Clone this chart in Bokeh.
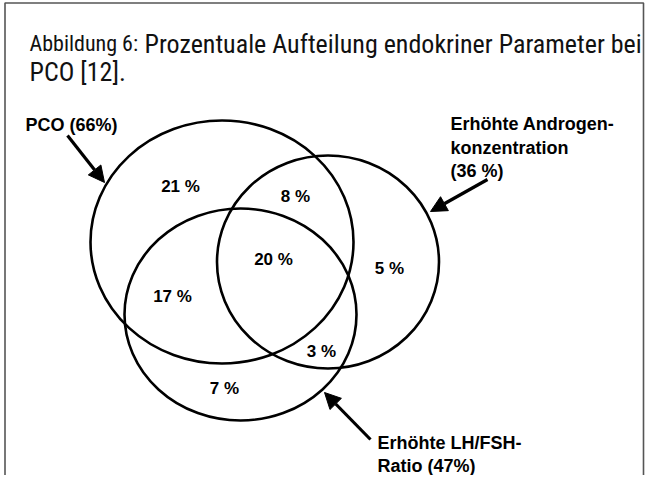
from bokeh.plotting import figure
from bokeh.models import Range1d, Arrow, NormalHead, ColumnDataSource
from bokeh.core.properties import value
from bokeh.embed import file_html
from bokeh.resources import INLINE

# ---- data ----
set_names = ["PCO", "Erhöhte Androgen-konzentration", "Erhöhte LH/FSH-Ratio"]
set_totals = [66, 36, 47]
region_names = ["nur PCO", "PCO + Androgen", "alle drei", "PCO + LH/FSH",
                "nur Androgen", "Androgen + LH/FSH", "nur LH/FSH"]
region_values = [21, 8, 20, 17, 5, 3, 7]
title_prefix = "Abbildung 6:"
title_main = "Prozentuale Aufteilung endokriner Parameter bei"
title_line2 = "PCO [12]."

# ---- layout (pixel space of the picture) ----
W, H = 645, 475
circle_cx = [229.5, 335.5, 248.0]
circle_cy = [249.5, 269.5, 322.0]
circle_w = [263.0, 222.0, 232.0]
circle_h = [243.0, 213.0, 212.0]
region_x = [188, 303, 281, 180, 397, 329, 232]
region_y = [194, 204, 267, 304, 276, 359, 396]

p = figure(width=W, height=H, output_backend="svg", toolbar_location=None,
           x_range=Range1d(8, 8 + W), y_range=Range1d(8 + H, 8),
           x_axis_type=None, y_axis_type=None, min_border=0,
           outline_line_color=None, background_fill_color="white")
p.grid.visible = False

# frame
p.line(x=[12.5, 12.5, 651, 651], y=[8 + H, 10.5, 10.5, 8 + H],
       line_color="#555555", line_width=1.6)

# title
p.text(x=[37], y=[51], text=[title_prefix], text_font=value("Roboto Condensed"),
       text_font_size="22px", text_color="#111111", text_baseline="alphabetic")
p.text(x=[152], y=[51], text=[title_main], text_font=value("Roboto Condensed"),
       text_font_size="26px", text_color="#111111", text_baseline="alphabetic")
p.text(x=[37], y=[79], text=[title_line2], text_font=value("Roboto Condensed"),
       text_font_size="26px", text_color="#111111", text_baseline="alphabetic")

# circles
p.ellipse(x=circle_cx, y=circle_cy, width=circle_w, height=circle_h,
          fill_color=None, line_color="black", line_width=2.6)

# region percentages
src = ColumnDataSource(dict(x=region_x, y=region_y,
                            t=[f"{v} %" for v in region_values]))
p.text(x="x", y="y", text="t", source=src, text_font=value("Liberation Sans"),
       text_font_style="bold", text_font_size="17px", text_color="black",
       text_align="center", text_baseline="middle")

# set labels
labels = [
    (33, 132, f"PCO ({set_totals[0]}%)"),
    (458, 131, "Erhöhte Androgen-"),
    (458, 155, "konzentration"),
    (458, 178, f"({set_totals[1]} %)"),
    (385, 450, "Erhöhte LH/FSH-"),
    (385, 473, f"Ratio ({set_totals[2]}%)"),
]
p.text(x=[l[0] for l in labels], y=[l[1] for l in labels], text=[l[2] for l in labels],
       text_font=value("Liberation Sans"), text_font_style="bold",
       text_font_size="18px", text_color="black", text_baseline="alphabetic")

# arrows
arrows = [((75, 143), (112, 190)), ((495, 187), (438, 219)), ((378, 447), (332, 400))]
for (x0, y0), (x1, y1) in arrows:
    p.add_layout(Arrow(end=NormalHead(size=16, fill_color="black", line_color="black"),
                       x_start=x0, y_start=y0, x_end=x1, y_end=y1,
                       line_width=3.2, line_color="black"))

open("out.html", "w").write(file_html(p, INLINE))
